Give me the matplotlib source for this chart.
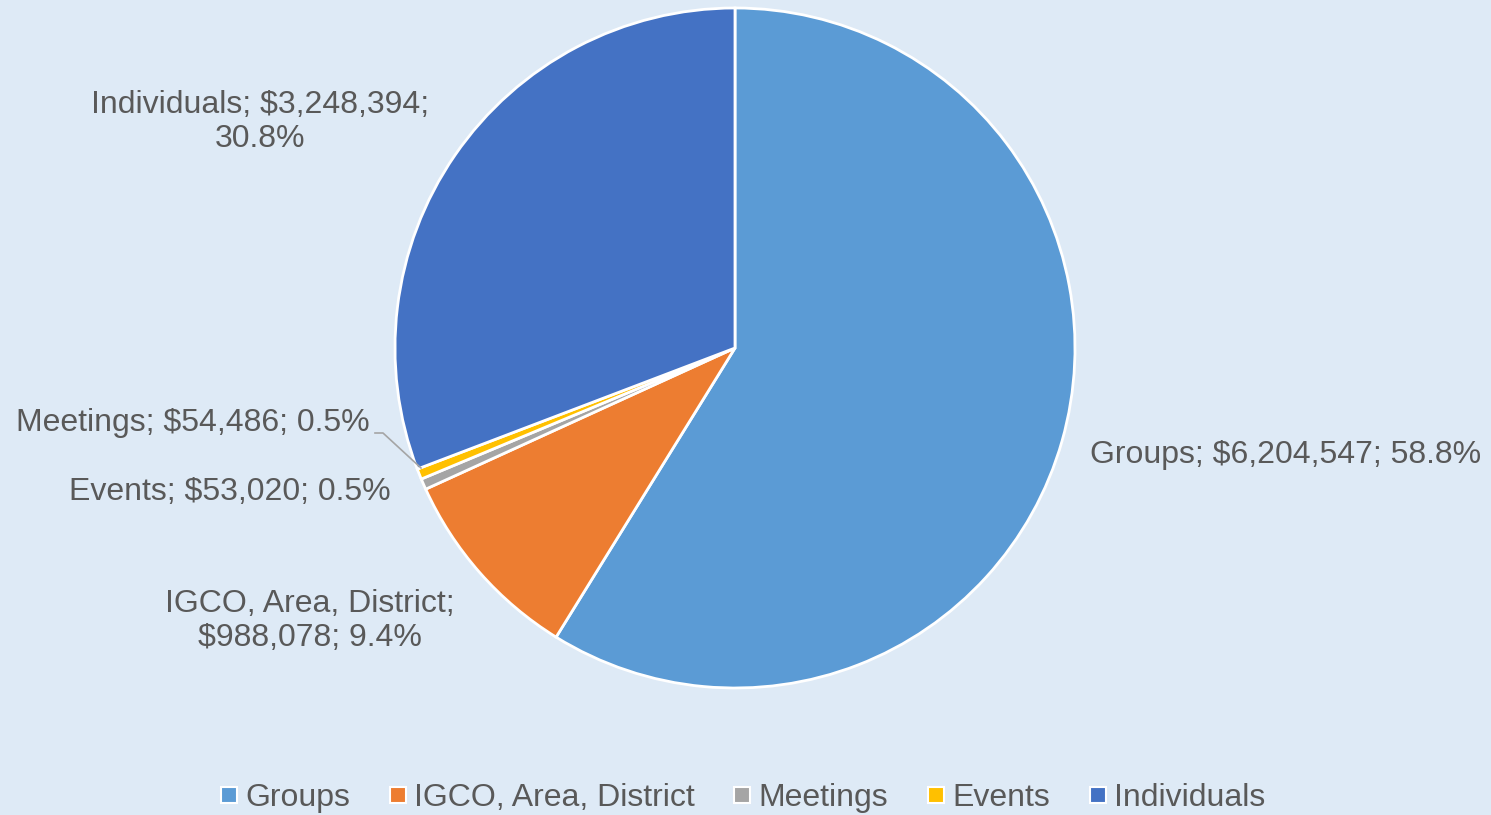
import matplotlib
matplotlib.use("Agg")
import matplotlib.pyplot as plt
from matplotlib.lines import Line2D

categories = ["Groups", "IGCO, Area, District", "Meetings", "Events", "Individuals"]
amounts = [6204547, 988078, 54486, 53020, 3248394]
percents = ["58.8%", "9.4%", "0.5%", "0.5%", "30.8%"]
colors = ["#5B9BD5", "#ED7D31", "#A5A5A5", "#FFC000", "#4472C4"]

BG = "#DEEAF6"
TXT = "#595959"
W, H = 1491, 815
plt.rcParams['font.family'] = ['Liberation Sans', 'DejaVu Sans']

fig = plt.figure(figsize=(W / 100, H / 100), dpi=100, facecolor=BG)
ax = fig.add_axes([0, 0, 1, 1])
ax.set_facecolor(BG)

def Y(py):
    return H - py

cx, cy, r = 735, 348, 340
ax.pie(amounts, colors=colors, startangle=90, counterclock=False,
       center=(cx, Y(cy)), radius=r, frame=True,
       wedgeprops=dict(edgecolor="white", linewidth=2.0))
ax.set_xlim(0, W)
ax.set_ylim(0, H)
ax.set_aspect('equal')
ax.axis('off')

def lab(i, sep):
    return f"{categories[i]}; ${amounts[i]:,};{sep}{percents[i]}"

fs = 23
ls = 1.2
ax.text(1286, Y(455), lab(0, " "), ha='center', va='center', fontsize=fs, color=TXT)
ax.text(310, Y(621), "IGCO, Area, District;\n" + f"${amounts[1]:,}; {percents[1]}",
        ha='center', va='center', fontsize=fs, color=TXT, linespacing=ls)
ax.text(193, Y(423), lab(2, " "), ha='center', va='center', fontsize=fs, color=TXT)
ax.text(230, Y(492), lab(3, " "), ha='center', va='center', fontsize=fs, color=TXT)
ax.text(260, Y(122), f"{categories[4]}; ${amounts[4]:,};\n{percents[4]}",
        ha='center', va='center', fontsize=fs, color=TXT, linespacing=ls)

# leader line for Meetings
ax.plot([375, 383, 421], [Y(433), Y(433), Y(468)], color="#A5A5A5", lw=1.2)

handles = [Line2D([0], [0], marker='s', linestyle='none', markersize=11,
                  markerfacecolor=c, markeredgecolor='white', markeredgewidth=1.5)
           for c in colors]
leg = fig.legend(handles, categories, loc='center', ncol=5, frameon=False,
                 bbox_to_anchor=(739 / W, 1 - 798 / H), fontsize=fs, labelcolor=TXT,
                 handletextpad=0.0, columnspacing=1.0, handlelength=1.0)

fig.savefig("out.png", dpi=100, facecolor=BG)
